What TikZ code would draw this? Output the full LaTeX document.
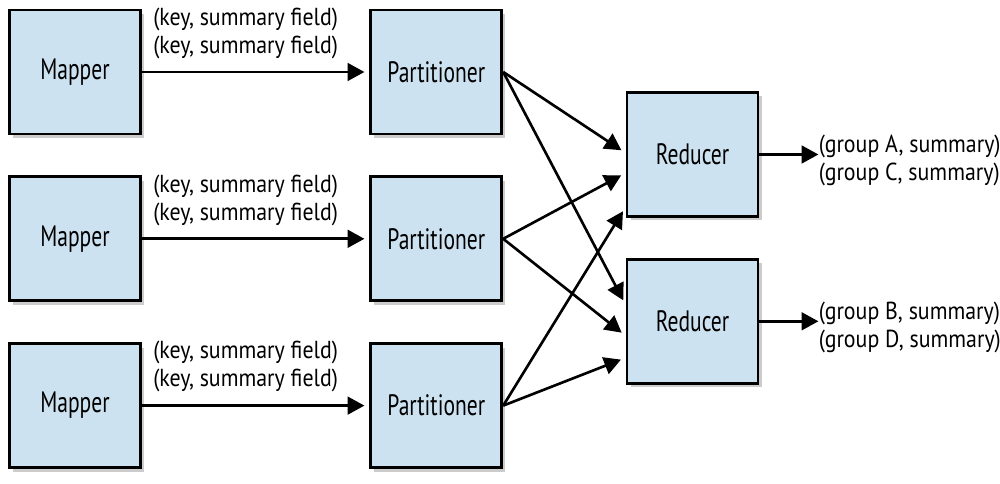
\documentclass[tikz,border=0pt]{standalone}
\usepackage{fontspec}
\setmainfont[FakeStretch=0.89]{PT Sans}
\newfontfamily\boxfont[FakeStretch=0.73]{PT Sans}
\usetikzlibrary{arrows.meta,positioning,shadows}
\definecolor{boxblue}{HTML}{CCE2F0}

\begin{document}
\begin{tikzpicture}[node distance=0.8cm]
  \useasboundingbox (0,0) rectangle (20,9.68);
  \begin{scope}[every node/.style={rectangle,draw,line width=1.6pt,fill=boxblue,
      minimum width=2.62cm,minimum height=2.48cm,font=\boxfont\fontsize{16.8}{18}\selectfont,
      drop shadow={shadow xshift=0.07cm,shadow yshift=-0.08cm,fill=black!40}}]
    \node (M1) at (1.50,8.24) {Mapper};
    \node (M2) [below=of M1] {Mapper};
    \node (M3) [below=of M2] {Mapper};
    \node (P1) [right=4.55cm of M1] {Partitioner};
    \node (P2) [right=4.55cm of M2] {Partitioner};
    \node (P3) [right=4.55cm of M3] {Partitioner};
    \node (R1) at (13.85,6.59) {Reducer};
    \node (R2) [below=of R1] {Reducer};
  \end{scope}
  \begin{scope}
    [every edge/.style={draw=black,line width=1.5pt,shorten >=1mm,
      -{Triangle[length=9.5pt,width=10pt]}},
    every node/.style={font=\fontsize{14}{15.9}\selectfont,inner sep=0pt,align=center}]
    \path (M1) edge node[above=2.4mm,xshift=-2mm] {(key, summary field)\\(key, summary field)} (P1);
    \path (M2) edge node[above=2.4mm,xshift=-2mm] {(key, summary field)\\(key, summary field)} (P2);
    \path (M3) edge node[above=2.4mm,xshift=-2mm] {(key, summary field)\\(key, summary field)} (P3);
    \path (P1.east) edge ([yshift=0.3mm]R1.west);
    \path (P1.east) edge ([yshift=3.3mm]R2.west);
    \path (P2.east) edge ([yshift=-3.7mm]R1.west);
    \path (P2.east) edge ([yshift=-2.9mm]R2.west);
    \path (P3.east) edge ([yshift=-10.5mm]R1.west);
    \path (P3.east) edge ([yshift=-7.3mm]R2.west);
    \coordinate (O1) at ([xshift=1.18cm]R1.east);
    \coordinate (O2) at ([xshift=1.18cm]R2.east);
    \path (R1) edge[shorten >=0pt] (O1);
    \path (R2) edge[shorten >=0pt] (O2);
    \node (G1) [right=0pt of O1,yshift=-1.2mm,align=left] {(group A, summary)\\(group C, summary)};
    \node (G2) [right=0pt of O2,yshift=-1.2mm,align=left] {(group B, summary)\\(group D, summary)};
  \end{scope}
\end{tikzpicture}
\end{document}
